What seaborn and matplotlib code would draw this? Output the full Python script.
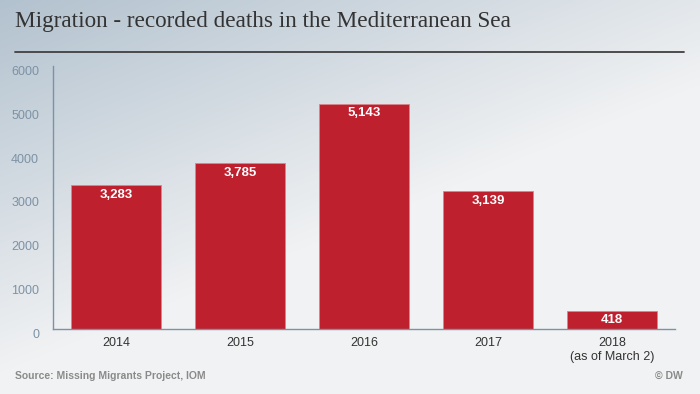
import numpy as np
import pandas as pd
import seaborn as sns
import matplotlib.pyplot as plt

years = ['2014', '2015', '2016', '2017', '2018\n(as of March 2)']
deaths = [3283, 3785, 5143, 3139, 418]
y_ticks = [0, 1000, 2000, 3000, 4000, 5000, 6000]

bar_red = '#be202e'
tick_blue = '#7d92a5'

df = pd.DataFrame({'year': years, 'deaths': deaths})

sns.set_theme(style='white')
plt.rcParams['font.family'] = ['Liberation Sans', 'DejaVu Sans']

fig = plt.figure(figsize=(7, 3.94), dpi=100)

# diagonal grey-blue gradient background
bg = fig.add_axes([0, 0, 1, 1], zorder=-10)
gx, gy = np.meshgrid(np.linspace(0, 1, 300), np.linspace(0, 1, 170))
t = np.clip(0.55 * gx + 0.75 * gy, 0, 1)
c0 = np.array([0.70, 0.76, 0.81])
c1 = np.array([0.945, 0.95, 0.955])
img = c0 + (c1 - c0) * np.clip(t * 1.4, 0, 1)[..., None]
bg.imshow(img, aspect='auto', extent=[0, 1, 0, 1], origin='upper')
bg.axis('off')

ax = fig.add_axes([53 / 700, 1 - 329 / 394, 622 / 700, 263 / 394])
ax.set_facecolor('none')

sns.barplot(data=df, x='year', y='deaths', color=bar_red, saturation=1,
            width=0.73, edgecolor='#d9848c', linewidth=0.6, ax=ax)

for i, v in enumerate(deaths):
    ax.annotate(f'{v:,}', (i, v), xytext=(0, -7), textcoords='offset points',
                ha='center', va='center', color='white', fontsize=9.5,
                fontweight='bold')

ax.set_xlim(-0.51, 4.51)
ax.set_ylim(0, 6000)
ax.set_yticks(y_ticks)
ax.set_xlabel('')
ax.set_ylabel('')
ax.tick_params(axis='y', colors=tick_blue, labelsize=9, length=0, pad=10)
ax.tick_params(axis='x', colors='#333333', labelsize=9, length=0, pad=6)
for lbl in ax.get_yticklabels():
    lbl.set_color(tick_blue)
    lbl.set_verticalalignment('top')
    lbl.set_y(lbl.get_position()[1])
sns.despine(ax=ax, top=True, right=True)
ax.spines['left'].set_color(tick_blue)
ax.spines['bottom'].set_color(tick_blue)
ax.spines['left'].set_linewidth(1)
ax.spines['bottom'].set_linewidth(1)

fig.text(15 / 700, 1 - 21 / 394, 'Migration - recorded deaths in the Mediterranean Sea',
         family=['Liberation Serif', 'DejaVu Serif'], fontsize=16.7,
         color='#333333', ha='left', va='center')
fig.add_artist(plt.Line2D([15 / 700, 684 / 700], [1 - 52 / 394, 1 - 52 / 394],
                          color='#404040', linewidth=1.3))

fig.text(15 / 700, 1 - 376 / 394, 'Source: Missing Migrants Project, IOM',
         fontsize=7.5, fontweight='bold', color='#8a8a8a', ha='left', va='center')
fig.text(683 / 700, 1 - 376 / 394, '© DW', fontsize=7.5, fontweight='bold',
         color='#8a8a8a', ha='right', va='center')

fig.savefig('out.png', dpi=100)
